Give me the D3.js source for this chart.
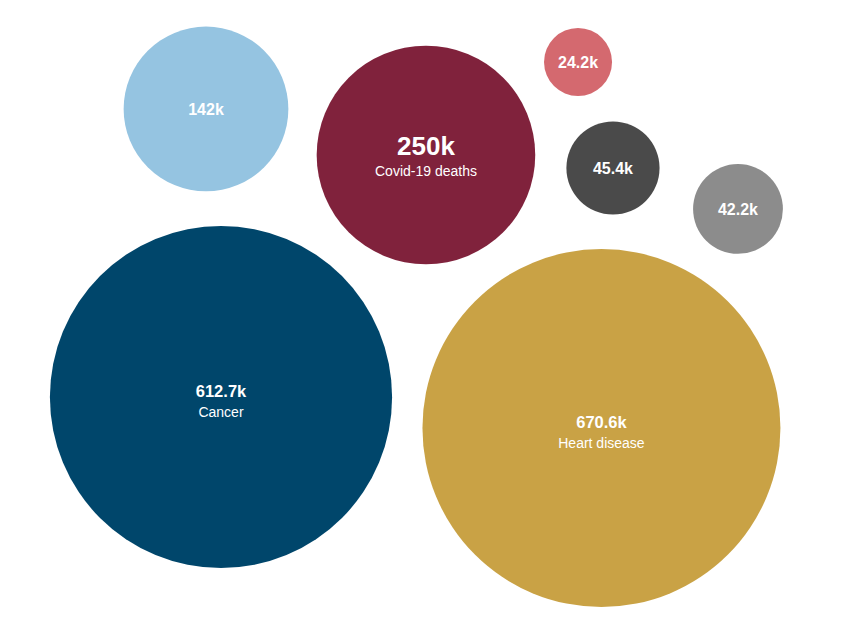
<!DOCTYPE html>
<html>
<head>
<meta charset="utf-8">
<script src="https://cdn.jsdelivr.net/npm/d3@7"></script>
<style>
  html, body { margin: 0; padding: 0; background: #fff; }
  svg { display: block; }
  text { font-family: "Liberation Sans", Arial, "DejaVu Sans", sans-serif; fill: #fff; }
</style>
</head>
<body>
<svg id="chart" width="867" height="630"></svg>
<script>
// Data
const causes = ["Heart disease", "Cancer", "Covid-19 deaths", "", "", "", ""];
const deaths = [670.6, 612.7, 250, 142, 45.4, 42.2, 24.2];
const valueLabels = ["670.6k", "612.7k", "250k", "142k", "45.4k", "42.2k", "24.2k"];
const colors = ["#c9a245", "#00466b", "#80223c", "#95c4e1", "#4a4a4a", "#8c8c8c", "#d4696f"];
// Layout (normalized positions in the packing frame)
const layoutX = [0.6937, 0.2549, 0.4913, 0.2376, 0.7070, 0.8512, 0.6667];
const layoutY = [0.6794, 0.6302, 0.2460, 0.1730, 0.2667, 0.3317, 0.0984];

const svg = d3.select("#chart");
const W = 867, H = 630;
const x = d3.scaleLinear().domain([0, 1]).range([0, W]);
const y = d3.scaleLinear().domain([0, 1]).range([0, H]);
const r = d3.scaleSqrt().domain([0, d3.max(deaths)]).range([0, 179]);

const data = deaths.map((v, i) => ({
  value: v, label: valueLabels[i], cause: causes[i], color: colors[i],
  cx: x(layoutX[i]), cy: y(layoutY[i])
}));

const g = svg.selectAll("g.bubble").data(data).join("g")
  .attr("class", "bubble")
  .attr("transform", d => `translate(${d.cx},${d.cy})`);

g.append("circle")
  .attr("r", d => r(d.value))
  .attr("fill", d => d.color);

g.each(function(d) {
  const s = d3.select(this);
  if (d.cause) {
    const big = d.cause === "Covid-19 deaths";
    s.append("text")
      .attr("text-anchor", "middle")
      .attr("y", 0)
      .attr("font-weight", "bold")
      .attr("font-size", big ? 26 : 16.5)
      .text(d.label);
    s.append("text")
      .attr("text-anchor", "middle")
      .attr("y", big ? 21 : 20)
      .attr("font-size", 14)
      .text(d.cause);
  } else {
    s.append("text")
      .attr("text-anchor", "middle")
      .attr("dy", "0.35em")
      .attr("font-weight", "bold")
      .attr("font-size", 16)
      .text(d.label);
  }
});
</script>
</body>
</html>
